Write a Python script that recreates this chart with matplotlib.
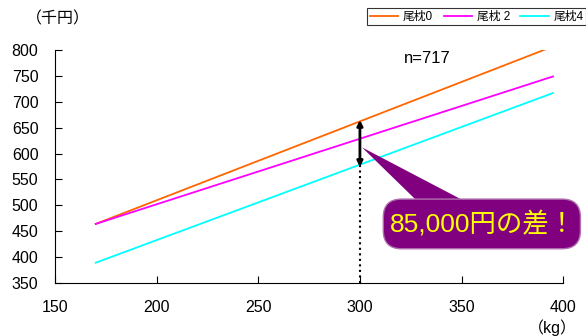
import matplotlib.pyplot as plt
from matplotlib.patches import FancyBboxPatch, Polygon

plt.rcParams['font.family'] = ['Liberation Sans', 'Noto Sans CJK JP', 'DejaVu Sans']

# weight (kg) at both ends of each fitted line
weight = [170, 395]
line0 = [464, 807]   # 尾枕0
line2 = [464, 749]   # 尾枕 2
line4 = [389, 717]   # 尾枕4
labels = ['尾枕0', '尾枕 2', '尾枕4']
colors = ['#FF6600', '#FF00FF', '#00FFFF']

# price difference at 300 kg
at_kg = 300
top_val = 662
bottom_val = 577
diff_text = '85,000円の差！'

fig = plt.figure(figsize=(5.86, 3.36), dpi=100)
ax = fig.add_axes([0.094, 0.158, 0.867, 0.693])

for ys, lab, c in zip([line0, line2, line4], labels, colors):
    ax.plot(weight, ys, color=c, lw=1.3, label=lab)

ax.set_xlim(150, 400)
ax.set_ylim(350, 800)
ax.set_xticks(range(150, 401, 50))
ax.set_yticks(range(350, 801, 50))
ax.tick_params(direction='in', labelsize=11.5, length=5)
ax.tick_params(axis='x', pad=12)
ax.tick_params(axis='y', pad=12)
for s in ['top', 'right']:
    ax.spines[s].set_visible(False)

# dotted guide and double arrow at 300 kg
ax.plot([at_kg, at_kg], [350, bottom_val], color='black', ls=':', lw=1.5)
ax.annotate('', xy=(at_kg, top_val + 3), xytext=(at_kg, bottom_val - 3),
            arrowprops=dict(arrowstyle='<|-|>', color='black', lw=2,
                            mutation_scale=8, shrinkA=0, shrinkB=0))

# callout box with pointer
purple = '#800080'
ax.add_patch(Polygon([(at_kg + 1, 612), (329, 505), (353, 505)],
                     closed=True, fc=purple, ec='none', clip_on=False, zorder=4))
ax.add_patch(FancyBboxPatch((311.5, 416), 97, 96,
                            boxstyle='round,pad=0,rounding_size=9',
                            mutation_aspect=3.9, fc=purple, ec='#B070B0',
                            lw=1, clip_on=False, zorder=4))
ax.text(360.5, 464, diff_text, ha='center', va='center', fontsize=19,
        color='#FFFF00', zorder=5)

ax.text(333, 784, 'n=717', fontsize=12, ha='center', va='center')

fig.text(0.045, 0.945, '（千円）', fontsize=11.5, ha='left', va='center')
fig.text(0.985, 0.025, '（kg）', fontsize=11.5, ha='right', va='center')

leg = fig.legend(loc='upper right', bbox_to_anchor=(1.0, 0.975), ncol=3,
                 fontsize=8.5, frameon=True, fancybox=False, edgecolor='black',
                 handlelength=2.4, columnspacing=0.9, handletextpad=0.4,
                 borderpad=0.2, borderaxespad=0)
leg.get_frame().set_linewidth(0.8)

fig.savefig('out.png', dpi=100)
